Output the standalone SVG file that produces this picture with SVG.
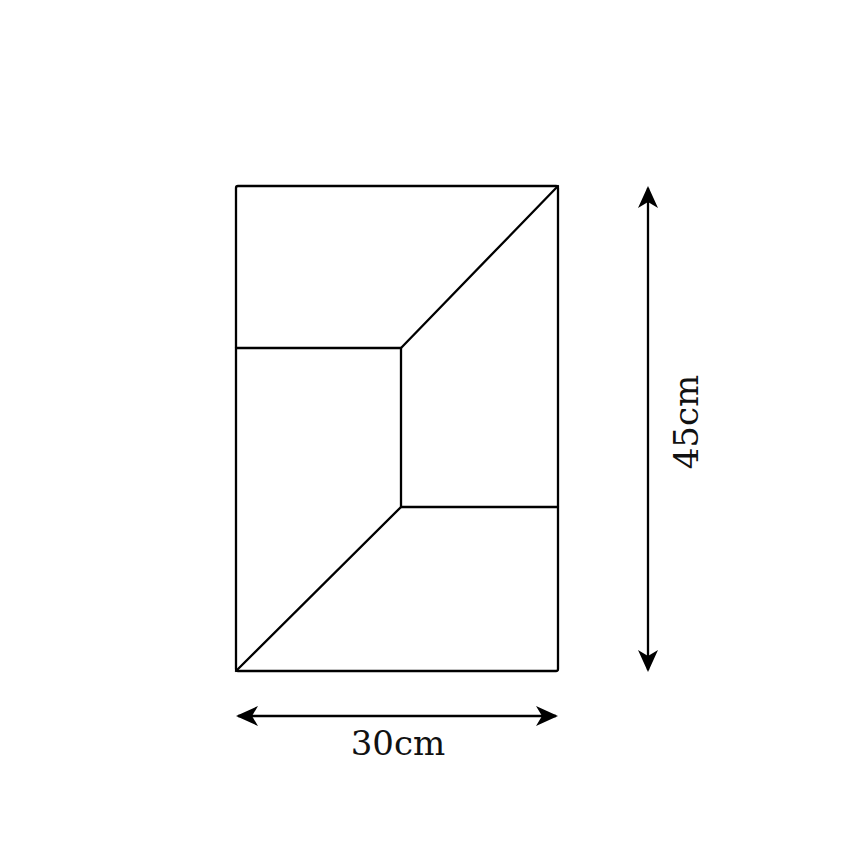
<svg xmlns="http://www.w3.org/2000/svg" width="852" height="852" viewBox="0 0 852 852">
<defs>
<style>
.ln{stroke:#000;stroke-width:2.3;fill:none;stroke-linejoin:round;stroke-linecap:round}
.lbl{font-family:"DejaVu Serif","Liberation Serif",serif;font-size:34px;fill:#111;text-anchor:middle}
</style>
<marker id="ah" viewBox="0 0 22 20" refX="20" refY="10" markerWidth="22" markerHeight="20" markerUnits="userSpaceOnUse" orient="auto-start-reverse">
<path d="M0,0 L22,10 L0,20 L6,10 Z" fill="#000"/>
</marker>
</defs>
<rect width="852" height="852" fill="#fff"/>
<g id="panel">
<rect class="ln" x="236" y="186" width="322" height="485" rx="2"/>
<polyline class="ln" points="236,348 401,348 401,507 558,507"/>
<line class="ln" x1="558" y1="186" x2="401" y2="348"/>
<line class="ln" x1="401" y1="507" x2="236" y2="671"/>
</g>
<g id="connectors">
<line x1="238" y1="716" x2="556" y2="716" stroke="#000" stroke-width="2.3" marker-start="url(#ah)" marker-end="url(#ah)"/>
<line x1="648" y1="188" x2="648" y2="670" stroke="#000" stroke-width="2.3" marker-start="url(#ah)" marker-end="url(#ah)"/>
</g>
<text class="lbl" x="398" y="755">30cm</text>
<text class="lbl" transform="translate(698,422) rotate(-90)">45cm</text>
</svg>
